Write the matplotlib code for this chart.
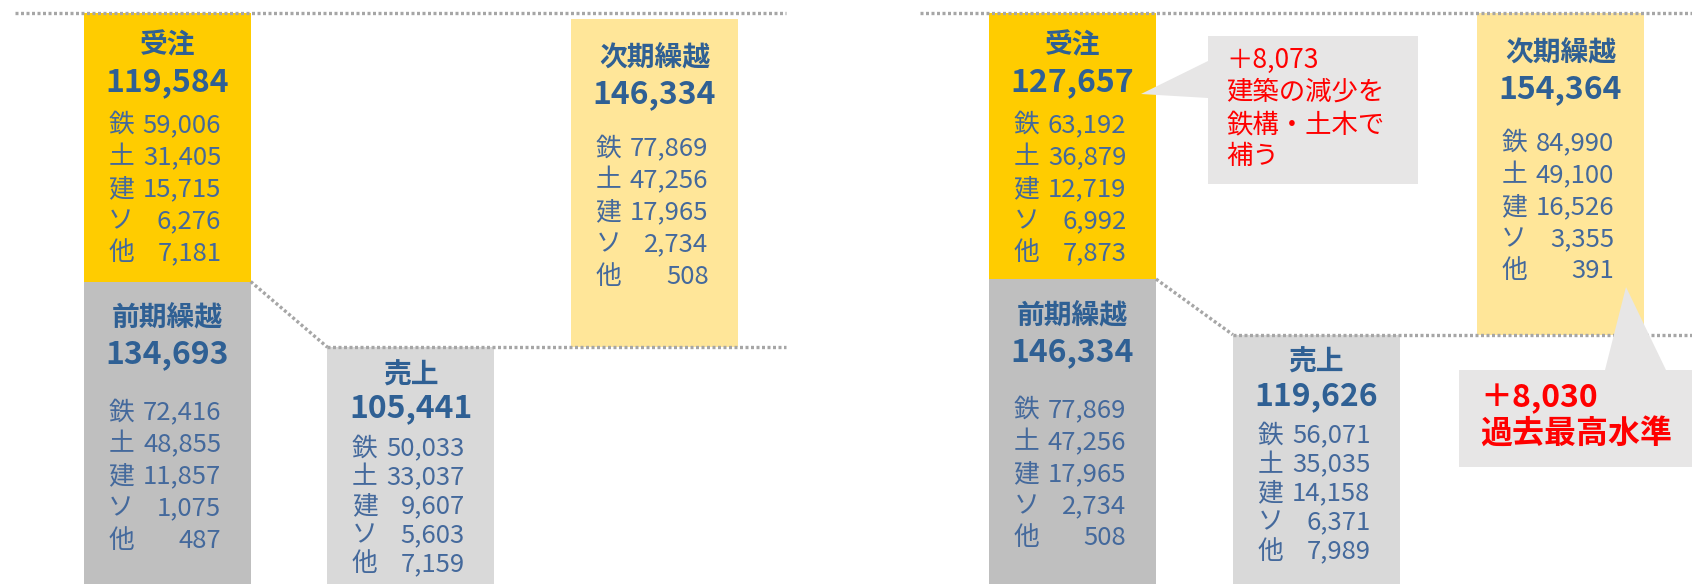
import matplotlib.pyplot as plt
from matplotlib.patches import Polygon

plt.rcParams['font.family'] = ['Noto Sans CJK JP', 'DejaVu Sans']

# data: two periods side by side (left = previous, right = current)
segments = ['鉄', '土', '建', 'ソ', '他']

prev_total = [134693, 146334]   # 前期繰越
orders = [119584, 127657]       # 受注
sales = [105441, 119626]        # 売上
next_total = [146334, 154364]   # 次期繰越

prev_breakdown = [[72416, 48855, 11857, 1075, 487],
                  [77869, 47256, 17965, 2734, 508]]
orders_breakdown = [[59006, 31405, 15715, 6276, 7181],
                    [63192, 36879, 12719, 6992, 7873]]
sales_breakdown = [[50033, 33037, 9607, 5603, 7159],
                   [56071, 35035, 14158, 6371, 7989]]
next_breakdown = [[77869, 47256, 17965, 2734, 508],
                  [84990, 49100, 16526, 3355, 391]]

note_orders = ['＋8,073', '建築の減少を', '鉄構・土木で', '補う']
note_next = ['＋8,030', '過去最高水準']

# colours
C_ORDER = '#FFCC00'
C_PREV = '#BFBFBF'
C_SALES = '#D9D9D9'
C_NEXT = '#FFE699'
C_DOT = '#A6A6A6'
C_BOLD = '#2F6094'
C_TEXT = '#44699C'
C_NOTE = '#E7E6E6'
C_RED = '#FF0000'

W, H = 1692, 584
fig = plt.figure(figsize=(W / 100, H / 100), dpi=100)

width = 0.685
xlim = (-0.625, 2.54)
panels = [(15, 771), (920, 772)]


def fmt(v):
    return f'{v:,}'


def label_block(ax, x, top, title, total, parts, dy_title, dy_num, dy_first, step=32):
    ax.annotate(title, (x, top), xytext=(0, -dy_title), textcoords='offset pixels',
                ha='center', va='center', fontsize=20, fontweight='bold', color=C_BOLD)
    ax.annotate(fmt(total), (x, top), xytext=(0, -dy_num), textcoords='offset pixels',
                ha='center', va='center', fontsize=23, fontweight='bold', color=C_BOLD)
    for i, (seg, v) in enumerate(zip(segments, parts)):
        dy = dy_first + step * i
        ax.annotate(seg, (x, top), xytext=(-59, -dy), textcoords='offset pixels',
                    ha='left', va='center', fontsize=18.5, color=C_TEXT)
        ax.annotate(fmt(v), (x, top), xytext=(54, -dy), textcoords='offset pixels',
                    ha='right', va='center', fontsize=18.5, color=C_TEXT)


for p, (left, pw) in enumerate(panels):
    ax = fig.add_axes([left / W, 0, pw / W, (H - 13) / H])
    top = prev_total[p] + orders[p]

    # waterfall bars
    ax.bar(0, prev_total[p], width, color=C_PREV)
    ax.bar(0, orders[p], width, bottom=prev_total[p], color=C_ORDER)
    ax.bar(1, sales[p], width, color=C_SALES)
    ax.bar(2, next_total[p], width, bottom=sales[p], color=C_NEXT)

    # dotted connector lines
    dot = dict(color=C_DOT, lw=2.4, linestyle=(0, (0.9, 0.75)), solid_capstyle='butt',
               dash_capstyle='butt', clip_on=False, zorder=3)
    ax.plot(xlim, [top, top], **dot)
    ax.plot([width / 2, 1 - width / 2], [prev_total[p], sales[p]], **dot)
    ax.plot([1 - width / 2, xlim[1]], [sales[p], sales[p]], **dot)

    label_block(ax, 0, top, '受注', orders[p], orders_breakdown[p], 32, 69, 112)
    label_block(ax, 0, prev_total[p], '前期繰越', prev_total[p], prev_breakdown[p], 37, 73, 131)
    label_block(ax, 1, sales[p], '売上', sales[p], sales_breakdown[p], 28, 61, 101, step=29)
    label_block(ax, 2, sales[p] + next_total[p], '次期繰越', next_total[p], next_breakdown[p], 40, 76, 130)

    ax.set_xlim(*xlim)
    ax.set_ylim(0, top)
    ax.axis('off')


def fpx(pts):
    return [(x / W, 1 - y / H) for x, y in pts]


# callouts on the right panel
fig.add_artist(Polygon(fpx([(1208, 36), (1418, 36), (1418, 184), (1208, 184),
                            (1208, 98), (1141, 94), (1208, 61)]),
                       closed=True, facecolor=C_NOTE, edgecolor='none',
                       transform=fig.transFigure, zorder=5))
for i, line in enumerate(note_orders):
    fig.text(1226 / W, 1 - (60 + 32.3 * i) / H, line, ha='left', va='center',
             fontsize=19, color=C_RED, zorder=6)

fig.add_artist(Polygon(fpx([(1459, 370), (1605, 370), (1626, 287), (1666, 370),
                            (1692, 370), (1692, 467), (1459, 467)]),
                       closed=True, facecolor=C_NOTE, edgecolor='none',
                       transform=fig.transFigure, zorder=5))
for i, line in enumerate(note_next):
    fig.text(1480 / W, 1 - (398 + 37 * i) / H, line, ha='left', va='center',
             fontsize=23, fontweight='bold', color=C_RED, zorder=6)

fig.savefig('out.png', dpi=100)
